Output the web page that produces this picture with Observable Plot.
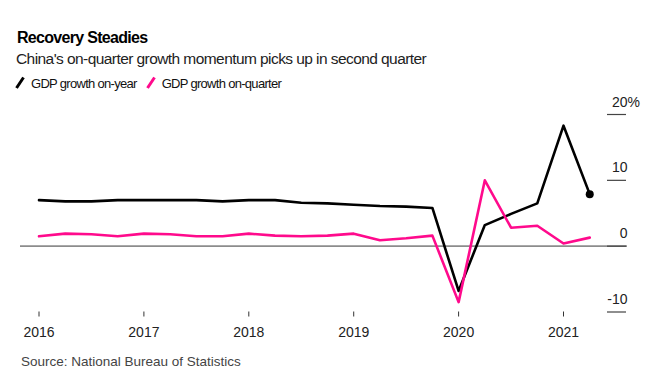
<!DOCTYPE html>
<html><head><meta charset="utf-8">
<script src="https://cdn.jsdelivr.net/npm/d3@7"></script>
<script src="https://cdn.jsdelivr.net/npm/@observablehq/plot@0.6"></script>
<style>
body{margin:0;background:#fff;font-family:"Liberation Sans",Arial,sans-serif;}
#wrap{position:relative;width:653px;height:387px;overflow:hidden;background:#fff;}
.t{position:absolute;white-space:nowrap;line-height:1;}
#title{left:17px;top:29.5px;font-size:16px;font-weight:bold;letter-spacing:-0.7px;color:#000;}
#sub{left:16px;top:50.9px;font-size:15.5px;letter-spacing:-0.57px;color:#222;}
#legend{left:15px;top:77px;font-size:13px;letter-spacing:-0.7px;color:#111;display:flex;align-items:flex-start;}
#legend .item{display:flex;align-items:flex-start;margin-right:9px;}
#legend svg{display:block;margin-right:6px;margin-top:-1px;}
#chart{position:absolute;left:0;top:95px;}
#source{left:21px;top:354.6px;font-size:13.5px;color:#444;}
</style></head>
<body>
<div id="wrap">
  <div class="t" id="title"></div>
  <div class="t" id="sub"></div>
  <div class="t" id="legend"></div>
  <div id="chart"></div>
  <div class="t" id="source"></div>
</div>
<script>
const titleText = "Recovery Steadies";
const subtitleText = "China's on-quarter growth momentum picks up in second quarter";
const sourceText = "Source: National Bureau of Statistics";

const quarters = ["2016Q1","2016Q2","2016Q3","2016Q4","2017Q1","2017Q2","2017Q3","2017Q4",
  "2018Q1","2018Q2","2018Q3","2018Q4","2019Q1","2019Q2","2019Q3","2019Q4",
  "2020Q1","2020Q2","2020Q3","2020Q4","2021Q1","2021Q2"];
const onYear = [7.0, 6.8, 6.8, 7.0, 7.0, 7.0, 7.0, 6.8,
  7.0, 7.0, 6.6, 6.5, 6.3, 6.1, 6.0, 5.8,
  -6.8, 3.2, 4.9, 6.5, 18.3, 7.9];
const onQuarter = [1.5, 1.9, 1.8, 1.5, 1.9, 1.8, 1.5, 1.5,
  1.9, 1.6, 1.5, 1.6, 1.9, 0.9, 1.2, 1.6,
  -8.5, 10.0, 2.8, 3.1, 0.4, 1.3];
const seriesNames = ["GDP growth on-year", "GDP growth on-quarter"];
const seriesColors = ["#000000", "#ff0a8c"];
const yTicks = [-10, 0, 10, 20];
const xTicks = [2016, 2017, 2018, 2019, 2020, 2021];

document.getElementById("title").textContent = titleText;
document.getElementById("sub").textContent = subtitleText;
document.getElementById("source").textContent = sourceText;

const legend = document.getElementById("legend");
seriesNames.forEach((name, i) => {
  const item = document.createElement("div");
  item.className = "item";
  item.innerHTML = `<svg width="10" height="13"><line x1="1.5" y1="12" x2="8.5" y2="1.5" stroke="${seriesColors[i]}" stroke-width="3"/></svg><span>${name}</span>`;
  legend.appendChild(item);
});

const toX = s => +s.slice(0, 4) + (+s.slice(5) - 1) / 4;
const rows = quarters.map((q, i) => ({t: toX(q), yoy: onYear[i], qoq: onQuarter[i]}));

const chart = Plot.plot({
  width: 653,
  height: 250,
  marginTop: 19,
  marginBottom: 33.5,
  marginLeft: 20,
  marginRight: 26,
  x: {domain: [2015.8236, 2021.61]},
  y: {domain: [-10, 20], axis: null},
  style: {fontFamily: "Liberation Sans, Arial, sans-serif", fontSize: "14px", color: "#222", background: "transparent", overflow: "visible"},
  marks: [
    Plot.ruleY([0], {stroke: "#8c8c8c", strokeWidth: 1.6}),
    Plot.ruleY(yTicks, {insetLeft: 587, insetRight: 1, stroke: "#444", strokeWidth: 1.2}),
    Plot.text(yTicks, {y: d => d, text: d => String(d), frameAnchor: "right", textAnchor: "end", lineAnchor: "bottom", dy: -8, fontSize: 14, fill: "#222"}),
    Plot.text([yTicks[yTicks.length - 1]], {y: d => d, text: () => "%", frameAnchor: "right", textAnchor: "start", lineAnchor: "bottom", dy: -8, fontSize: 14, fill: "#222"}),
    Plot.axisX({ticks: xTicks, tickFormat: d => String(d), tickSize: 5, tickPadding: 10.3, fontSize: 14, label: null, stroke: "#333"}),
    Plot.lineY(rows, {x: "t", y: "yoy", stroke: seriesColors[0], strokeWidth: 2.6}),
    Plot.lineY(rows, {x: "t", y: "qoq", stroke: seriesColors[1], strokeWidth: 2.6}),
    Plot.dot(rows.slice(-1), {x: "t", y: "yoy", r: 4, fill: seriesColors[0]})
  ]
});
document.getElementById("chart").appendChild(chart);
</script>
</body></html>
